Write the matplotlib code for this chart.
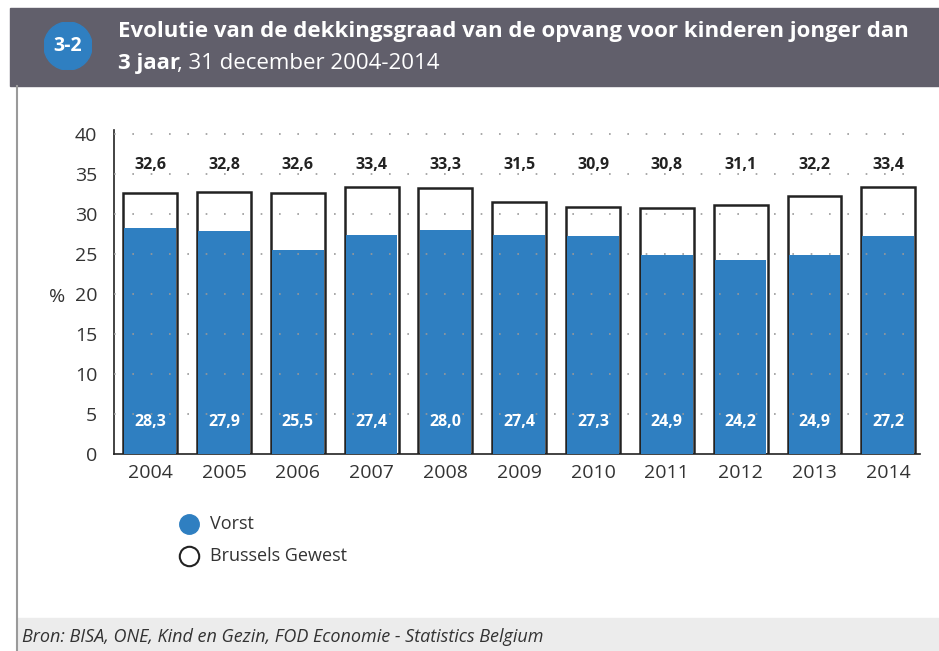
import matplotlib.pyplot as plt
from matplotlib.patches import Rectangle, Circle
from matplotlib.lines import Line2D

plt.rcParams['font.family'] = ['Open Sans', 'DejaVu Sans']

years = ['2004', '2005', '2006', '2007', '2008', '2009', '2010', '2011', '2012', '2013', '2014']
vorst = [28.3, 27.9, 25.5, 27.4, 28.0, 27.4, 27.3, 24.9, 24.2, 24.9, 27.2]
brussels = [32.6, 32.8, 32.6, 33.4, 33.3, 31.5, 30.9, 30.8, 31.1, 32.2, 33.4]

W, H = 939, 651
fig = plt.figure(figsize=(W / 100, H / 100), dpi=100)

# header bar and frame
fig.patches.append(Rectangle((10 / W, 1 - 86 / H), 1, 78 / H, transform=fig.transFigure,
                             color='#615f6b', zorder=0))
fig.patches.append(Rectangle((17 / W, 0), 1, 33 / H, transform=fig.transFigure,
                             color='#ececec', zorder=0))
fig.lines.append(Line2D([17 / W, 17 / W], [0, 1 - 86 / H], transform=fig.transFigure,
                        color='#9a9a9a', lw=1.5))

badge = fig.add_axes([44 / W, 1 - 70 / H, 48 / W, 48 / H], zorder=10)
badge.add_patch(Circle((0.5, 0.5), 0.5, color='#2f7fc1'))
badge.set_xlim(0, 1)
badge.set_ylim(0, 1)
badge.axis('off')
badge.text(0.5, 0.5, '3-2', color='white', fontsize=14, fontweight='bold',
           ha='center', va='center')

fig.text(118 / W, 1 - 32 / H, 'Evolutie van de dekkingsgraad van de opvang voor kinderen jonger dan',
         color='white', fontsize=16, fontweight='bold', va='center')
fig.text(118 / W, 1 - 64 / H, '3 jaar', color='white', fontsize=16, fontweight='bold', va='center')
fig.text(177 / W, 1 - 64 / H, ', 31 december 2004-2014', color='white', fontsize=16, va='center')

fig.text(22 / W, 1 - 637 / H, 'Bron: BISA, ONE, Kind en Gezin, FOD Economie - Statistics Belgium',
         color='#333333', fontsize=13, style='italic', va='center')

ax = fig.add_axes([114 / W, 1 - 454 / H, (920 - 114) / W, (454 - 130) / H])
x = list(range(len(years)))
ax.bar(x, brussels, width=0.73, color='white', edgecolor='#222222', linewidth=1.8, zorder=2)
ax.bar(x, vorst, width=0.70, color='#2f7fc1', linewidth=0, zorder=3)

for yv in range(5, 45, 5):
    ax.axhline(yv, color='#999999', lw=1.2, ls=(0, (1, 10)), zorder=4)

for i in x:
    ax.text(i, 36.1, f'{brussels[i]:.1f}'.replace('.', ','), ha='center', va='center',
            fontsize=11.5, fontweight='bold', color='#222222', zorder=5)
    ax.text(i, 4.0, f'{vorst[i]:.1f}'.replace('.', ','), ha='center', va='center',
            fontsize=11.5, fontweight='bold', color='white', zorder=5)

ax.set_xlim(-0.49, 10.43)
ax.set_ylim(0, 40.5)
ax.set_yticks(range(0, 45, 5))
ax.set_xticks(x)
ax.set_xticklabels(years)
ax.tick_params(length=0, labelsize=14, colors='#333333', pad=7)
ax.tick_params(axis='y', pad=12)
for s in ['top', 'right']:
    ax.spines[s].set_visible(False)
for s in ['left', 'bottom']:
    ax.spines[s].set_color('#222222')
    ax.spines[s].set_linewidth(1.2)
fig.text(57 / W, 1 - 297 / H, '%', fontsize=14, color='#333333', ha='center', va='center')

# legend
fig.lines.append(Line2D([189 / W], [1 - 524 / H], transform=fig.transFigure, marker='o',
                        markersize=14, color='#2f7fc1', ls='none'))
fig.lines.append(Line2D([189 / W], [1 - 556 / H], transform=fig.transFigure, marker='o',
                        markersize=14, markerfacecolor='white', markeredgecolor='#222222',
                        markeredgewidth=1.5, ls='none'))
fig.text(210 / W, 1 - 524 / H, 'Vorst', fontsize=13, color='#333333', va='center')
fig.text(210 / W, 1 - 556 / H, 'Brussels Gewest', fontsize=13, color='#333333', va='center')

fig.savefig('out.png', dpi=100)
